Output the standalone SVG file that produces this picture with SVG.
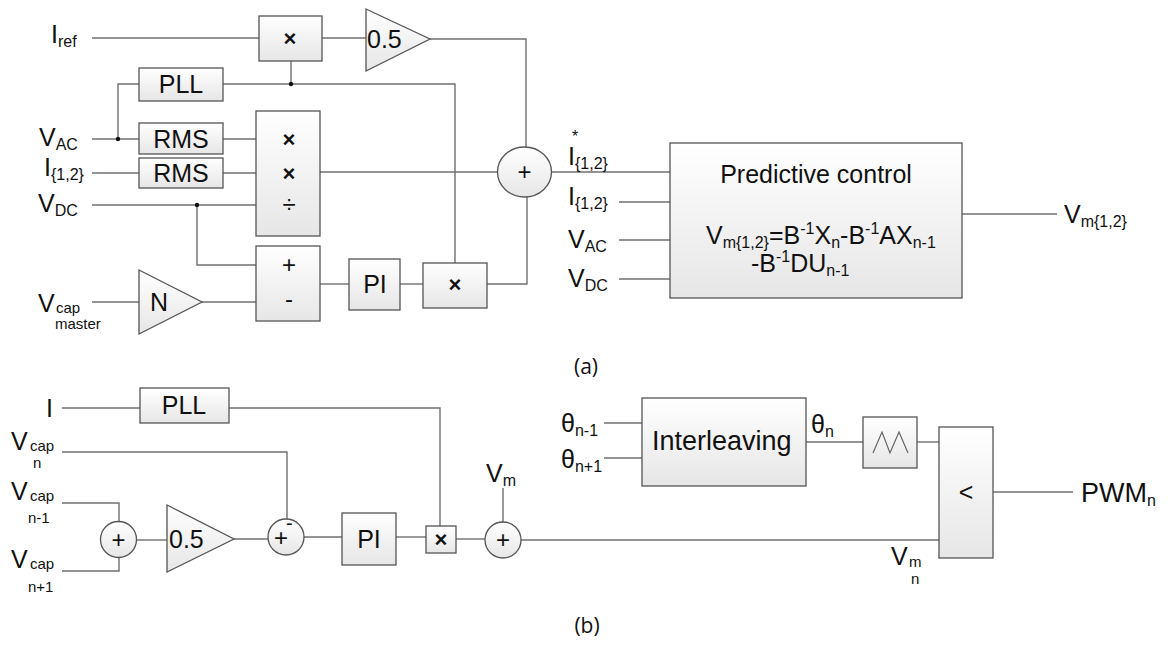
<svg xmlns="http://www.w3.org/2000/svg" width="1168" height="646" viewBox="0 0 1168 646">
<defs>
<linearGradient id="g" x1="0" y1="0" x2="0" y2="1">
<stop offset="0" stop-color="#ffffff"/>
<stop offset="1" stop-color="#e6e6e6"/>
</linearGradient>
<style>
.bx{fill:url(#g);stroke:#555;stroke-width:1.3}
.ln{fill:none;stroke:#707070;stroke-width:1.4}
.t{font-family:"Liberation Sans",Arial,sans-serif;fill:#111;font-size:25px}
.s{font-size:16px}
.ss{font-size:15px}
.c{text-anchor:middle}
.sym{font-family:"Liberation Sans",Arial,sans-serif;fill:#111;font-size:24px;text-anchor:middle}
.x{font-weight:bold;font-size:22px}
.cap{font-family:"Open Sans","Liberation Sans",sans-serif;fill:#111;font-size:21px;text-anchor:middle}
.dot{fill:#111}
</style>
</defs>
<rect width="1168" height="646" fill="#fff"/>

<g id="connectors">
<path class="ln" d="M92,38 H259"/>
<path class="ln" d="M322,38 H366"/>
<path class="ln" d="M430,39 H526 V147"/>
<path class="ln" d="M223,84 H455 V263"/>
<path class="ln" d="M291,61 V84"/>
<path class="ln" d="M118,139 V84 H139"/>
<path class="ln" d="M92,139 H139"/>
<path class="ln" d="M223,139 H256"/>
<path class="ln" d="M92,173 H139"/>
<path class="ln" d="M223,173 H256"/>
<path class="ln" d="M92,205 H256"/>
<path class="ln" d="M197,205 V265 H256"/>
<path class="ln" d="M92,302 H139"/>
<path class="ln" d="M202,302 H256"/>
<path class="ln" d="M320,284 H349"/>
<path class="ln" d="M400,284 H423"/>
<path class="ln" d="M487,284 H527 V197"/>
<path class="ln" d="M320,172 H497"/>
<path class="ln" d="M552,172 H670"/>
<path class="ln" d="M619,202 H670"/>
<path class="ln" d="M619,240 H670"/>
<path class="ln" d="M619,279 H670"/>
<path class="ln" d="M962,214 H1057"/>
<circle class="dot" cx="291" cy="84" r="2.2"/>
<circle class="dot" cx="118" cy="139" r="2.2"/>
<circle class="dot" cx="197" cy="205" r="2.2"/>

<path class="ln" d="M62,408 H140"/>
<path class="ln" d="M229,408 H440 V526"/>
<path class="ln" d="M62,452 H287 V519"/>
<path class="ln" d="M62,503 H119 V521"/>
<path class="ln" d="M62,571 H119 V557"/>
<path class="ln" d="M137,540 H167"/>
<path class="ln" d="M234,539 H268"/>
<path class="ln" d="M304,537 H342"/>
<path class="ln" d="M396,537 H426"/>
<path class="ln" d="M456,539 H485"/>
<path class="ln" d="M503,488 V522"/>
<path class="ln" d="M521,540 H939"/>
<path class="ln" d="M604,423 H642"/>
<path class="ln" d="M604,458 H642"/>
<path class="ln" d="M806,442 H863"/>
<path class="ln" d="M917,442 H939"/>
<path class="ln" d="M993,492 H1073"/>
</g>

<g id="labels-a">
<text class="t" x="51" y="43">I<tspan class="s" dy="4">ref</tspan></text>
<text class="t" x="39" y="146">V<tspan class="s" dy="4">AC</tspan></text>
<text class="t" x="44" y="176">I<tspan class="s" dy="4">{1,2}</tspan></text>
<text class="t" x="38" y="212">V<tspan class="s" dy="4">DC</tspan></text>
<text class="t" x="38" y="312">V</text>
<text class="t ss" x="56" y="313">cap</text>
<text class="t ss" x="55" y="329">master</text>
<text class="t s" x="572" y="142">*</text>
<text class="t" x="568" y="165">I<tspan class="s" dy="4">{1,2}</tspan></text>
<text class="t" x="568" y="205">I<tspan class="s" dy="4">{1,2}</tspan></text>
<text class="t" x="568" y="248">V<tspan class="s" dy="4">AC</tspan></text>
<text class="t" x="568" y="287">V<tspan class="s" dy="4">DC</tspan></text>
<text class="t" x="1064" y="223">V<tspan class="s" dy="4">m{1,2}</tspan></text>
<text class="cap" x="586" y="374">(a)</text>
</g>

<g id="mul1"><rect class="bx" x="259" y="16" width="63" height="45"/><text class="sym x" x="290" y="46">×</text></g>
<g id="gain-a"><polygon class="bx" points="366,9 430,39 366,71"/><text class="t" x="367" y="48">0.5</text></g>
<g id="pll-a"><rect class="bx" x="139" y="68" width="84" height="33"/><text class="t c" x="181" y="93">PLL</text></g>
<g id="rms1"><rect class="bx" x="139" y="123" width="84" height="31"/><text class="t c" x="181" y="148">RMS</text></g>
<g id="rms2"><rect class="bx" x="139" y="158" width="84" height="30"/><text class="t c" x="181" y="182">RMS</text></g>
<g id="muldiv"><rect class="bx" x="256" y="111" width="64" height="125"/>
<text class="sym x" x="289" y="147">×</text><text class="sym x" x="289" y="181">×</text><text class="sym" x="289" y="213">÷</text></g>
<g id="subtract"><rect class="bx" x="256" y="246" width="64" height="75"/>
<text class="sym" x="289" y="273">+</text><text class="sym" x="289" y="307">-</text></g>
<g id="gain-n"><polygon class="bx" points="139,270 202,302 139,334"/><text class="t" x="150" y="311">N</text></g>
<g id="pi-a"><rect class="bx" x="349" y="259" width="51" height="51"/><text class="t c" x="375" y="293">PI</text></g>
<g id="mul2"><rect class="bx" x="423" y="263" width="64" height="45"/><text class="sym x" x="455" y="292">×</text></g>
<g id="sum-a"><ellipse class="bx" cx="524.5" cy="172" rx="27" ry="25"/><text class="sym" x="524.5" y="180">+</text></g>
<g id="predictive"><rect class="bx" x="670" y="143" width="292" height="155"/>
<text class="t c" x="816" y="183">Predictive control</text>
<text class="t" x="706" y="244">V<tspan class="s" dy="4">m{1,2}</tspan><tspan dy="-4">=B</tspan><tspan class="s" dy="-10">-1</tspan><tspan dy="10">X</tspan><tspan class="s" dy="4">n</tspan><tspan dy="-4">-B</tspan><tspan class="s" dy="-10">-1</tspan><tspan dy="10">AX</tspan><tspan class="s" dy="4">n-1</tspan></text>
<text class="t" x="751" y="272">-B<tspan class="s" dy="-10">-1</tspan><tspan dy="10">DU</tspan><tspan class="s" dy="4">n-1</tspan></text>
</g>

<g id="labels-b">
<text class="t" x="46" y="417">I</text>
<text class="t" x="11" y="450">V</text><text class="t ss" x="30" y="451">cap</text><text class="t ss" x="33" y="468">n</text>
<text class="t" x="11" y="500">V</text><text class="t ss" x="30" y="501">cap</text><text class="t ss" x="28" y="523">n-1</text>
<text class="t" x="11" y="568">V</text><text class="t ss" x="30" y="569">cap</text><text class="t ss" x="28" y="592">n+1</text>
<text class="t" x="486" y="482">V<tspan class="s" dy="4">m</tspan></text>
<text class="t" x="561" y="432">θ<tspan class="s" dy="4">n-1</tspan></text>
<text class="t" x="561" y="468">θ<tspan class="s" dy="4">n+1</tspan></text>
<text class="t" x="811" y="433">θ<tspan class="s" dy="4">n</tspan></text>
<text class="t" x="1081" y="502" style="font-size:27px">PWM<tspan class="s" dy="4">n</tspan></text>
<text class="t" x="891" y="565">V</text><text class="t ss" x="909" y="567">m</text><text class="t ss" x="911" y="584">n</text>
<text class="cap" x="587" y="633">(b)</text>
</g>

<g id="pll-b"><rect class="bx" x="140" y="388" width="89" height="35"/><text class="t c" x="184" y="414">PLL</text></g>
<g id="sum-b1"><circle class="bx" cx="118.5" cy="539.5" r="18"/><text class="sym" x="118.5" y="547.5">+</text></g>
<g id="gain-b"><polygon class="bx" points="167,505 234,539 167,572"/><text class="t" x="169" y="548">0.5</text></g>
<g id="sum-b2"><circle class="bx" cx="286" cy="537" r="18"/><text class="sym" x="281" y="546">+</text><text class="t" x="286" y="530" style="font-size:20px">-</text></g>
<g id="pi-b"><rect class="bx" x="342" y="513" width="54" height="52"/><text class="t c" x="369" y="548">PI</text></g>
<g id="mul-b"><rect class="bx" x="426" y="526" width="30" height="27"/><text class="sym x" x="441" y="547">×</text></g>
<g id="sum-b3"><circle class="bx" cx="503" cy="540" r="18"/><text class="sym" x="503" y="548">+</text></g>
<g id="interleaving"><rect class="bx" x="642" y="398" width="164" height="88"/><text class="t" x="652" y="450" style="font-size:27px">Interleaving</text></g>
<g id="carrier"><rect class="bx" x="863" y="417" width="54" height="51"/><polyline points="873,453 882,432 890,453 899,432 908,453" fill="none" stroke="#666" stroke-width="1.2"/></g>
<g id="compare"><rect class="bx" x="939" y="427" width="54" height="131"/><text class="t c" x="966" y="501">&lt;</text></g>
</svg>
